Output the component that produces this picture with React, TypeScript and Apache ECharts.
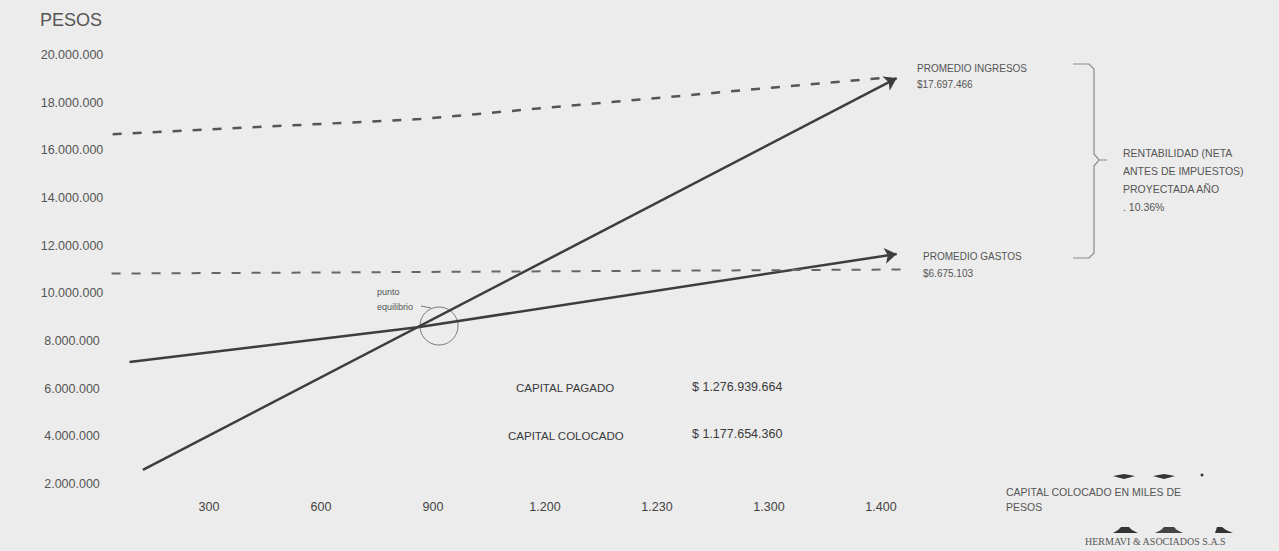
import React, { useEffect, useRef } from "react";
import * as echarts from "echarts";

// X categories (capital colocado en miles de pesos)
const xCategories = ["300", "600", "900", "1.200", "1.230", "1.300", "1.400"];
// Y axis ticks (pesos)
const yMin = 2000000;
const yMax = 20000000;
const yStep = 2000000;

// Lines: [category index position, pesos]
const ingresosPts = [
  [-0.59, 2590000],
  [6.14, 19030000],
];
const gastosPts = [
  [-0.71, 7120000],
  [1.88, 8590000],
  [6.14, 11650000],
];
const ingresosDashPts = [
  [-0.86, 16680000],
  [1.88, 17310000],
  [5.99, 19030000],
];
const gastosDashPts = [
  [-0.87, 10830000],
  [6.21, 11000000],
];

const capitalLabels = ["CAPITAL PAGADO", "CAPITAL COLOCADO"];
const capitalValues = ["$ 1.276.939.664", "$ 1.177.654.360"];
const rentabilidadLines = [
  "RENTABILIDAD (NETA",
  "ANTES DE IMPUESTOS)",
  "PROYECTADA AÑO",
  ". 10.36%",
];

const fmt = (v: number) =>
  Math.round(v)
    .toString()
    .replace(/\B(?=(\d{3})+(?!\d))/g, ".");

const SANS = '"Liberation Sans", Arial, sans-serif';

export default function App() {
  const ref = useRef<HTMLDivElement>(null);
  useEffect(() => {
    if (!ref.current) return;
    const chart = echarts.init(ref.current, null, { renderer: "svg" });
    const txt = (
      text: string,
      x: number,
      y: number,
      size: number,
      fill = "#444",
      family = SANS,
      align = "left"
    ) => ({
      type: "text",
      x,
      y,
      silent: true,
      style: {
        text,
        fill,
        font: `${size}px ${family}`,
        align,
        verticalAlign: "middle",
      },
    });
    const graphics: any[] = [
      txt("PESOS", 40, 20, 18, "#555"),
      txt(capitalLabels[0], 516, 388, 11.5, "#3a3a3a"),
      txt(capitalValues[0], 692, 387, 12.5, "#3a3a3a"),
      txt(capitalLabels[1], 508, 436, 11.5, "#3a3a3a"),
      txt(capitalValues[1], 692, 434, 12.5, "#3a3a3a"),
      txt("PROMEDIO INGRESOS", 917, 68, 10, "#555"),
      txt("$17.697.466", 917, 84, 10, "#555"),
      txt("PROMEDIO GASTOS", 923, 256, 10, "#555"),
      txt("$6.675.103", 923, 273, 10, "#555"),
      ...rentabilidadLines.map((t, i) =>
        txt(t, 1123, 153 + i * 18, 10.5, "#555")
      ),
      txt("punto", 377, 292, 9, "#555"),
      txt("equilibrio", 377, 307, 9, "#555"),
      txt("CAPITAL COLOCADO EN MILES DE", 1006, 492, 10.5, "#555"),
      txt("PESOS", 1006, 507, 10.5, "#555"),
      txt(
        "HERMAVI & ASOCIADOS S.A.S",
        1085,
        541,
        10,
        "#555",
        '"Liberation Serif", serif'
      ),
      {
        type: "circle",
        silent: true,
        shape: { cx: 439, cy: 326, r: 19 },
        style: { fill: "none", stroke: "#777", lineWidth: 1 },
      },
      {
        type: "line",
        silent: true,
        shape: { x1: 421, y1: 306, x2: 431, y2: 308 },
        style: { stroke: "#777", lineWidth: 1 },
      },
      {
        type: "polyline",
        silent: true,
        shape: {
          points: [
            [1073, 64],
            [1089, 64],
            [1094, 69],
            [1094, 154],
            [1099, 160],
            [1107, 160],
            [1099, 160],
            [1094, 166],
            [1094, 253],
            [1089, 258],
            [1073, 258],
          ],
        },
        style: { fill: "none", stroke: "#8a8a8a", lineWidth: 1.2 },
      },
      // logo marks
      {
        type: "polygon",
        silent: true,
        shape: {
          points: [
            [1113, 476],
            [1124, 474],
            [1135, 476],
            [1124, 479],
          ],
        },
        style: { fill: "#333" },
      },
      {
        type: "polygon",
        silent: true,
        shape: {
          points: [
            [1153, 476],
            [1164, 474],
            [1175, 476],
            [1164, 479],
          ],
        },
        style: { fill: "#333" },
      },
      {
        type: "circle",
        silent: true,
        shape: { cx: 1202, cy: 475, r: 1.5 },
        style: { fill: "#333" },
      },
      {
        type: "polygon",
        silent: true,
        shape: {
          points: [
            [1113, 533],
            [1118, 530],
            [1121, 527],
            [1129, 527],
            [1132, 530],
            [1138, 533],
          ],
        },
        style: { fill: "#333" },
      },
      {
        type: "polygon",
        silent: true,
        shape: {
          points: [
            [1155, 533],
            [1161, 530],
            [1164, 527],
            [1174, 527],
            [1177, 530],
            [1183, 533],
          ],
        },
        style: { fill: "#444" },
      },
      {
        type: "polygon",
        silent: true,
        shape: {
          points: [
            [1215, 533],
            [1217, 527],
            [1222, 527],
            [1226, 530],
            [1233, 533],
          ],
        },
        style: { fill: "#333" },
      },
    ];

    const solidStyle = { color: "#3d3d3d", width: 2.5, opacity: 1, curveness: 0 };
    const lastIdx = gastosPts.length - 1;

    chart.setOption({
      animation: false,
      backgroundColor: "#ececec",
      grid: { left: 97, right: 286, top: 55, bottom: 551 - 484 },
      xAxis: {
        type: "value",
        min: -1,
        max: 7,
        interval: 1,
        axisLine: { show: false },
        axisTick: { show: false },
        splitLine: { show: false },
        axisLabel: {
          margin: 16,
          color: "#444",
          fontSize: 12.5,
          fontFamily: SANS,
          formatter: (v: number) => xCategories[Math.round(v)] ?? "",
        },
      },
      yAxis: {
        type: "value",
        min: yMin,
        max: yMax,
        interval: yStep,
        axisLine: { show: false },
        axisTick: { show: false },
        splitLine: { show: false },
        axisLabel: {
          margin: 25,
          align: "center",
          color: "#555",
          fontSize: 12.5,
          fontFamily: SANS,
          formatter: (v: number) => fmt(v),
        },
      },
      series: [
        {
          type: "line",
          name: "ingresosDash",
          data: ingresosDashPts,
          symbol: "none",
          silent: true,
          lineStyle: { color: "#555", width: 2.5, type: [9, 11] },
        },
        {
          type: "line",
          name: "gastosDash",
          data: gastosDashPts,
          symbol: "none",
          silent: true,
          lineStyle: { color: "#666", width: 2, type: [9, 11] },
        },
        {
          type: "lines",
          coordinateSystem: "cartesian2d",
          silent: true,
          symbol: "none",
          lineStyle: solidStyle,
          data: gastosPts
            .slice(0, lastIdx - 1 + 1)
            .slice(0, lastIdx - 1)
            .map((p, i) => ({ coords: [p, gastosPts[i + 1]] })),
        },
        {
          type: "lines",
          coordinateSystem: "cartesian2d",
          silent: true,
          symbol: ["none", "arrow"],
          symbolSize: 12,
          lineStyle: solidStyle,
          data: [
            { coords: ingresosPts },
            { coords: [gastosPts[lastIdx - 1], gastosPts[lastIdx]] },
          ],
        },
      ],
      graphic: graphics,
    });
    return () => chart.dispose();
  }, []);
  return (
    <div
      ref={ref}
      style={{
        position: "absolute",
        left: 0,
        top: 0,
        width: 1279,
        height: 551,
      }}
    />
  );
}
